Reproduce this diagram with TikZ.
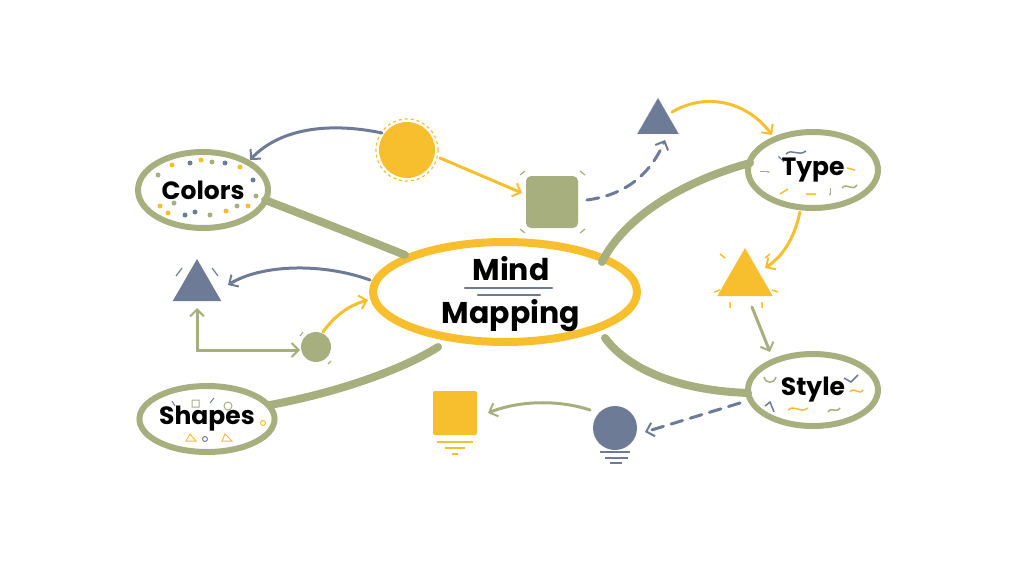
\documentclass[tikz,border=0pt]{standalone}
\usepackage{fontspec}
\setmainfont{Poppins}
\usetikzlibrary{arrows.meta,shapes.geometric,decorations.pathmorphing}
\definecolor{gr}{HTML}{A8AF7E}
\definecolor{ye}{HTML}{F7BF2E}
\definecolor{sl}{HTML}{6E7B96}
\begin{document}
\begin{tikzpicture}[x=1pt,y=-1pt,
  tip/.style={-{Straight Barb[length=7pt,width=14pt,line width=2pt]}},
  conn/.style={line width=3pt,line cap=round,tip},
  branch/.style={gr,line width=8pt,line cap=round},
  topic/.style={ellipse,draw=gr,line width=6pt,minimum width=#1,inner sep=0pt,font=\bfseries\fontsize{25}{26}\selectfont},
  dot/.style={circle,inner sep=0pt,minimum size=5pt}]
\useasboundingbox (0,0) rectangle (1024,580);
% central
\node[ellipse,draw=ye,line width=8pt,minimum width=264pt,minimum height=100pt] (c) at (505,292) {};
\node[font=\bfseries\fontsize{30}{32}\selectfont] (t1) at (511,269) {Mind};
\node[font=\bfseries\fontsize{30}{32}\selectfont] (t2) at (511,316) {Mapping};
\draw[sl,line width=2.5pt,line cap=round] (465,288) -- (552,288) (478,295) -- (540,295);
% topics
\node[topic=130pt,minimum height=76pt] (col) at (203,190) {Colors};
\node[topic=128pt,minimum height=66pt] (sha) at (207,419) {Shapes};
\node[topic=130pt,minimum height=76pt] (typ) at (813,170) {Type};
\node[topic=130pt,minimum height=72pt] (sty) at (813,390) {Style};
% dots in Colors
\foreach \x/\y/\c in {172/165/ye,190/163/sl,201/160/ye,212/162/gr,225/163/sl,240/167/ye,158/175/gr,253/180/sl,256/196/gr,248/206/ye,160/206/ye,174/203/gr,195/212/sl,210/215/gr,226/211/ye,237/206/gr,185/215/sl,168/213/ye}
  \node[dot,fill=\c] at (\x,\y) {};
% decorations in Shapes
\draw[gr,line width=1pt] (192,400) rectangle (199,407) (228,406) circle (4pt);
\draw[ye,line width=1pt] (190,434) -- (196,441) -- (186,441) -- cycle (225,434) -- (232,441) -- (222,441) -- cycle (263,423) circle (2.5pt);
\draw[sl,line width=1pt] (205,439) circle (2.5pt) (172,401)--(175,406) (210,403)--(214,398);
% decorations Type/Style
\draw[sl,line width=1.5pt] (786,154) .. controls (792,148) and (798,157) .. (806,151);
\draw[gr,line width=1.5pt] (842,188) .. controls (847,182) and (852,192) .. (857,185);
\draw[ye,line width=1.5pt] (780,194)--(788,189) (806,194)--(816,194) (847,168)--(855,170);
\draw[gr,line width=1pt,-{Stealth[length=3pt]}] (760,172)--(770,172);
\draw[gr,line width=1pt,-{Stealth[length=3pt]}] (830,188)--(830,196);
\draw[sl,line width=1pt,-{Stealth[length=3pt]}] (784,162)--(778,156);
\draw[sl,line width=1.5pt] (844,378)--(851,382)--(858,375) (765,406) -- (770,402) -- (774,412);
\draw[ye,line width=1.5pt] (788,410) .. controls (795,404) and (800,414) .. (808,408) (850,392) .. controls (854,386) and (859,396) .. (863,390);
\draw[gr,line width=1.5pt] (764,377) .. controls (766,384) and (774,384) .. (776,377) (828,412) .. controls (830,406) and (836,414) .. (840,408);
% branches
\draw[branch] (265,200) .. controls (330,225) and (380,245) .. (405,255);
\draw[branch] (270,405) .. controls (350,390) and (410,365) .. (438,347);
\draw[branch] (750,163) .. controls (670,185) and (620,225) .. (602,262);
\draw[branch] (748,393) .. controls (670,390) and (625,365) .. (605,338);
% shapes
\node[circle,fill=ye,minimum size=56pt,inner sep=0pt] (sun) at (407,150) {};
\draw[ye,dashed,line width=1.2pt] (sun) circle (31pt);
\node[fill=gr,rounded corners=5pt,minimum size=52pt,inner sep=0pt] (sq) at (552,202) {};
\node[isosceles triangle,isosceles triangle apex angle=60,shape border rotate=90,fill=sl,draw=sl!60,densely dotted,inner sep=0pt,minimum height=36pt] (tri1) at (658,122) {};
\node[isosceles triangle,isosceles triangle apex angle=60,shape border rotate=90,fill=ye,inner sep=0pt,minimum height=48pt] (tri2) at (745,280) {};
\node[isosceles triangle,isosceles triangle apex angle=60,shape border rotate=90,fill=sl,inner sep=0pt,minimum height=42pt] (tri3) at (197,287) {};
\node[circle,fill=gr,minimum size=30pt,inner sep=0pt] (gc) at (316,347) {};
\node[fill=ye,rounded corners=2pt,minimum size=44pt,inner sep=0pt] (ysq) at (455,413) {};
\node[circle,fill=sl,minimum size=44pt,inner sep=0pt] (sc) at (615,428) {};
\draw[sl,line width=1.5pt] (600,452) -- (630,452) (605,458) -- (628,458) (610,463)--(622,463);
\draw[ye,line width=1.2pt] (437,442)--(473,442) (445,448)--(465,448) (452,454)--(458,454);
% sparkles
\draw[gr,line width=1.2pt] (520,175)--(525,171) (585,175)--(580,171) (520,229)--(525,233) (585,229)--(580,233);
\draw[ye,line width=1.5pt] (725,258)--(720,254) (765,258)--(770,254) (720,290)--(714,292) (772,290)--(778,292) (730,302)--(730,308) (762,302)--(762,308);
\draw[gr,line width=1.2pt] (303,332)--(300,336) (331,361)--(328,364);
\draw[sl,line width=1.2pt] (182,268)--(176,276) (212,268)--(218,276);
% connectors
\draw[conn,sl] (382,133) .. controls (330,122) and (280,128) .. (250,160);
\draw[conn,ye] (440,158) -- (522,193);
\draw[conn,sl,dash pattern=on 12pt off 8pt] (587,200) .. controls (625,195) and (650,175) .. (665,140);
\draw[conn,ye] (672,112) .. controls (710,90) and (750,105) .. (772,135);
\draw[conn,ye] (800,212) .. controls (795,235) and (785,255) .. (765,268);
\draw[conn,gr] (752,307) -- (770,352);
\draw[conn,sl,dash pattern=on 12pt off 8pt] (740,403) -- (645,432);
\draw[conn,gr] (590,410) .. controls (560,400) and (520,400) .. (488,413);
\draw[conn,sl] (370,280) .. controls (320,262) and (260,265) .. (228,285);
\draw[conn,gr,{Straight Barb[length=7pt,width=14pt,line width=2pt]}-{Straight Barb[length=7pt,width=14pt,line width=2pt]}] (197,308) -- (197,350) -- (300,350);
\draw[conn,ye] (323,332) .. controls (335,315) and (350,305) .. (368,300);
\end{tikzpicture}
\end{document}
